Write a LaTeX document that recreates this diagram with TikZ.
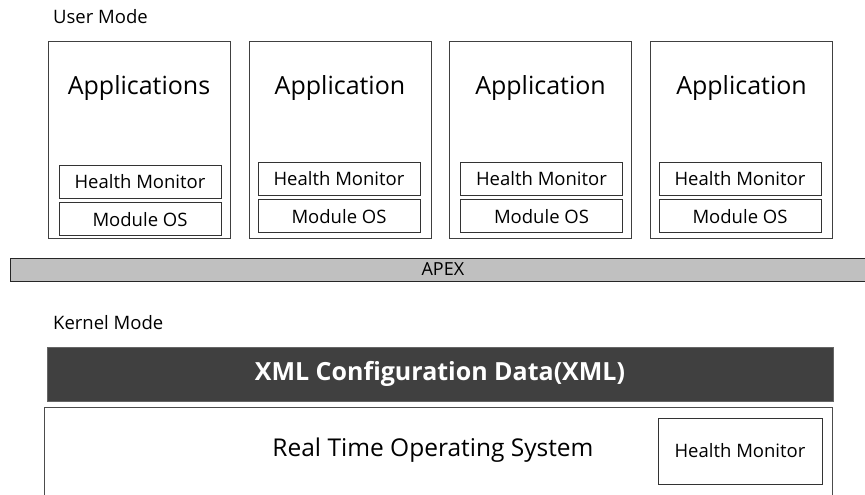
\documentclass[tikz,border=0pt]{standalone}
\usepackage{fontspec}
\setmainfont{Open Sans}
\usetikzlibrary{positioning}
\definecolor{apexgray}{HTML}{C0C0C0}
\definecolor{xmldark}{HTML}{404040}
\tikzset{
  appbox/.style={draw=black!75, line width=0.8pt, minimum width=182pt, minimum height=197pt, inner sep=0pt},
  partbox/.style={draw=black!80, line width=0.8pt, minimum width=162pt, minimum height=33pt, inner sep=0pt, font=\fontsize{18.5}{21}\selectfont},
  modelabel/.style={anchor=west, inner sep=0pt, font=\fontsize{18.5}{21}\selectfont},
  apptitle/.style={inner sep=0pt, font=\fontsize{25}{28}\selectfont}
}

\begin{document}
\begin{tikzpicture}[x=1pt,y=-1pt]
  \useasboundingbox (0,0) rectangle (865,495);
  \node[modelabel] (user) at (53,17) {User Mode};

  \node[appbox] (app_1) at (139,139.5) {};
  \node[appbox] (app_2) at (340,140) {};
  \node[appbox] (app_3) at (540.5,140) {};
  \node[appbox] (app_4) at (741.5,140) {};

  \node[apptitle] (title_1) at (139,88) {Applications};
  \node[apptitle] (title_2) at (340,88) {Application};
  \node[apptitle] (title_3) at (540.5,88) {Application};
  \node[apptitle] (title_4) at (741.5,88) {Application};

  \node[partbox] (hm_1) at (140,181.5) {Health Monitor};
  \node[partbox] (os_1) [below=4pt of hm_1] {Module OS};
  \node[partbox] (hm_2) at (339,178.5) {Health Monitor};
  \node[partbox] (os_2) [below=4pt of hm_2] {Module OS};
  \node[partbox] (hm_3) at (541.5,178.5) {Health Monitor};
  \node[partbox] (os_3) [below=4pt of hm_3] {Module OS};
  \node[partbox] (hm_4) at (740,178.5) {Health Monitor};
  \node[partbox] (os_4) [below=4pt of hm_4] {Module OS};

  \node[draw=black!85, fill=apexgray, line width=0.8pt, minimum width=870pt, minimum height=23pt, inner sep=0pt, anchor=west, font=\fontsize{18}{20}\selectfont] (apex) at (10,269.5) {\hspace*{-5pt}APEX};

  \node[modelabel] (kernel) at (53,323) {Kernel Mode};
  \node[draw=black!60, fill=xmldark, text=white, minimum width=786pt, minimum height=54pt, inner sep=0pt, font=\bfseries\fontsize{25}{28}\selectfont] (xml) at (440,374) {XML Configuration Data(XML)};
  \node[draw=black!70, line width=0.8pt, minimum width=788pt, minimum height=100pt, inner sep=0pt, anchor=north west] (rtos) at (44,407) {};
  \node[inner sep=0pt, font=\fontsize{24.5}{28}\selectfont] (rtos_label) at (433,450) {Real Time Operating System};
  \node[draw=black!80, line width=0.8pt, minimum width=164pt, minimum height=66pt, inner sep=0pt, font=\fontsize{18.5}{21}\selectfont] (hm_k) at (740,451) {Health Monitor};
\end{tikzpicture}
\end{document}
